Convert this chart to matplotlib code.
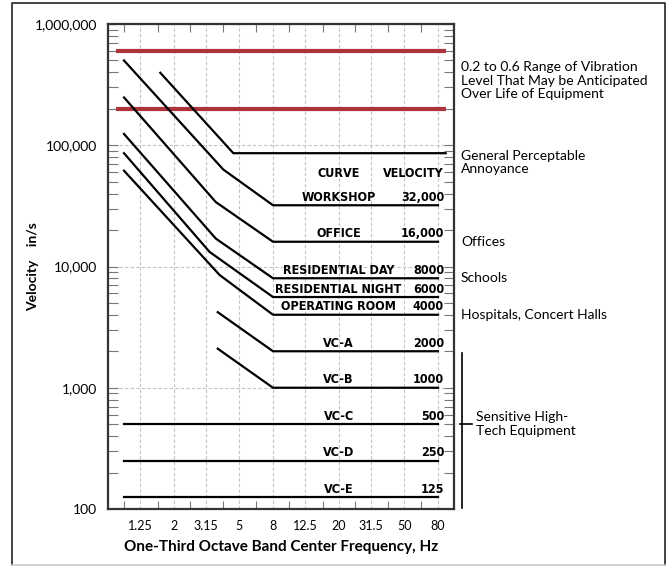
import matplotlib
matplotlib.use('Agg')
import matplotlib.pyplot as plt
from matplotlib import font_manager
from matplotlib.lines import Line2D
from matplotlib.transforms import blended_transform_factory
from matplotlib.ticker import FixedLocator, NullFormatter

# ============================================================
# Data
# ============================================================
major_f = [1.25, 2, 3.15, 5, 8, 12.5, 20, 31.5, 50, 80]
major_lbl = ['1.25', '2', '3.15', '5', '8', '12.5', '20', '31.5', '50', '80']
minor_f = [1, 1.6, 2.5, 4, 6.3, 10, 16, 25, 40, 63]

y_major = [100, 1000, 10000, 100000, 1000000]
y_lbl = ['100', '1,000', '10,000', '100,000', '1,000,000']

range_f = [0.9, 89]
range_hi = [600000, 600000]
range_lo = [200000, 200000]

annoy_f = [1.66, 4.6, 89]
annoy_v = [396000, 86000, 86000]

curve_names = ['WORKSHOP', 'OFFICE', 'RESIDENTIAL DAY', 'RESIDENTIAL NIGHT',
               'OPERATING ROOM', 'VC-A', 'VC-B', 'VC-C', 'VC-D', 'VC-E']
curve_text = ['32,000', '16,000', '8000', '6000', '4000',
              '2000', '1000', '500', '250', '125']
curve_f = [
    [1, 4, 8, 80],
    [1, 3.6, 8, 80],
    [1, 3.6, 8, 80],
    [1, 3.3, 8, 80],
    [1, 3.8, 8, 80],
    [3.7, 8, 80],
    [3.7, 8, 80],
    [1, 80],
    [1, 80],
    [1, 80],
]
curve_v = [
    [500000, 63000, 32000, 32000],
    [248000, 34000, 16000, 16000],
    [124000, 17000, 8000, 8000],
    [86000, 13200, 5600, 5600],
    [61700, 8500, 4000, 4000],
    [4200, 2000, 2000],
    [2100, 1000, 1000],
    [500, 500],
    [250, 250],
    [125, 125],
]

side_text = ['0.2 to 0.6 Range of Vibration\nLevel That May be Anticipated\nOver Life of Equipment',
             'General Perceptable\nAnnoyance', 'Offices', 'Schools',
             'Hospitals, Concert Halls']
side_y = [340000, 72000, 16000, 8000, 4000]

# ============================================================
# Fonts
# ============================================================
names = {f.name for f in font_manager.fontManager.ttflist}
body_font = 'Lato' if 'Lato' in names else 'DejaVu Sans'
plt.rcParams['font.family'] = [body_font, 'DejaVu Sans']

# a bold condensed face for the curve table, if one is installed
cond_path = None
for key in ['LiberationSansNarrow-Bold', 'DejaVuSansCondensed-Bold', 'Condensed-Bold', 'Narrow-Bold']:
    hits = [f.fname for f in font_manager.fontManager.ttflist
            if key.lower() in f.fname.lower().replace(' ', '') and 'oblique' not in f.fname.lower()
            and 'italic' not in f.fname.lower()]
    if hits:
        cond_path = sorted(hits)[0]
        break
if cond_path:
    cond_fp = font_manager.FontProperties(fname=cond_path, size=9)
else:
    cond_fp = font_manager.FontProperties(family=body_font, weight='bold', size=8)

# ============================================================
# Plot
# ============================================================
fig = plt.figure(figsize=(6.68, 5.66), dpi=100)
ax = fig.add_axes([108 / 668, 1 - 509 / 566, 346 / 668, 485 / 566])
ax.set_xscale('log')
ax.set_yscale('log')
ax.set_xlim(0.8, 100)
ax.set_ylim(100, 1000000)

red = '#ad323a'
ax.plot(range_f, range_hi, color=red, lw=3.0, solid_capstyle='butt', zorder=3)
ax.plot(range_f, range_lo, color=red, lw=3.0, solid_capstyle='butt', zorder=3)
ax.plot(annoy_f, annoy_v, color='black', lw=1.6, zorder=4)

for name, txt, f, v in zip(curve_names, curve_text, curve_f, curve_v):
    ax.plot(f, v, color='black', lw=1.6, zorder=4)
    ax.annotate(name, (20, v[-1]), xytext=(0, 8), textcoords='offset pixels',
                ha='center', va='center', fontproperties=cond_fp)
    ax.annotate(txt, (87, v[-1]), xytext=(0, 8), textcoords='offset pixels',
                ha='right', va='center', fontproperties=cond_fp)

ax.text(20, 59000, 'CURVE', ha='center', va='center', fontproperties=cond_fp)
ax.text(87, 59000, 'VELOCITY', ha='right', va='center', fontproperties=cond_fp)

# axes ticks / grid
ax.xaxis.set_major_locator(FixedLocator(major_f))
ax.set_xticklabels(major_lbl)
ax.xaxis.set_minor_locator(FixedLocator(minor_f))
ax.xaxis.set_minor_formatter(NullFormatter())
ax.yaxis.set_major_locator(FixedLocator(y_major))
ax.set_yticklabels(y_lbl)
ax.yaxis.set_minor_locator(FixedLocator([m * d for d in [100, 1000, 10000, 100000] for m in range(2, 10)]))
ax.yaxis.set_minor_formatter(NullFormatter())

ax.tick_params(axis='x', which='major', length=0, pad=8, labelsize=9)
ax.tick_params(axis='x', which='minor', direction='in', length=6, top=True, width=0.8, color='#777777')
ax.tick_params(axis='y', which='both', direction='in', length=7, right=True, width=0.8,
               color='#777777', pad=8, labelsize=10)
ax.grid(True, which='major', ls=(0, (3, 2)), color='#c4c4c4', lw=0.8)
for s in ax.spines.values():
    s.set_color('#333333')
    s.set_linewidth(1.6)

ax.set_ylabel('Velocity    in/s', fontsize=10, fontweight='bold')
ax.yaxis.set_label_coords(-0.199, 0.5)
ax.set_xlabel('One-Third Octave Band Center Frequency, Hz', fontsize=11, fontweight='bold')
ax.xaxis.set_label_coords(0.5, -0.064)

# right-side annotations
tr = blended_transform_factory(ax.transAxes, ax.transData)
for txt, y in zip(side_text, side_y):
    ax.text(1.0202, y, txt, transform=tr, ha='left', va='center', fontsize=10,
            linespacing=1.15, clip_on=False)
ax.add_line(Line2D([1.0231, 1.0231], [1950, 102], transform=tr, color='black', lw=1.2, clip_on=False))
ax.add_line(Line2D([1.0173, 1.052], [500, 500], transform=tr, color='black', lw=1.2, clip_on=False))
ax.text(1.0636, 500, 'Sensitive High-\nTech Equipment', transform=tr, ha='left', va='center',
        fontsize=10, linespacing=1.15, clip_on=False)

# outer frame
x0, x1 = 12 / 668, 665 / 668
y0, y1 = 1 - 565 / 566, 1 - 3 / 566
fig.add_artist(Line2D([x0, x0, x1, x1], [y0, y1, y1, y0], transform=fig.transFigure, color='#222222', lw=1.2))
fig.add_artist(Line2D([x0, x1], [y0, y0], transform=fig.transFigure, color='#cccccc', lw=1.2))

fig.savefig('out.png', dpi=100)
